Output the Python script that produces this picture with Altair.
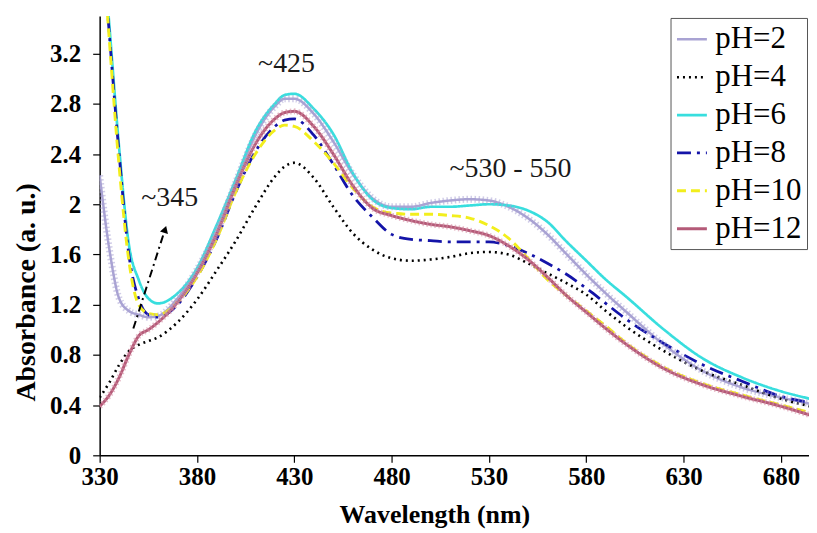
import altair as alt
import pandas as pd

# ---------------- data ----------------
wavelength = [330, 335, 340, 345, 350, 355, 360, 370, 380, 390, 400, 410, 420, 425, 430,
              440, 450, 460, 470, 480, 490, 500, 510, 520, 530, 540, 550, 560, 570, 580,
              590, 600, 620, 640, 660, 680, 695]

ph2 = [2.23, 1.64, 1.25, 1.15, 1.12, 1.10, 1.11, 1.25, 1.48, 1.78, 2.18, 2.55, 2.78, 2.84, 2.84,
       2.72, 2.50, 2.24, 2.05, 1.98, 1.98, 2.01, 2.03, 2.04, 2.03, 1.98, 1.89, 1.76, 1.60, 1.44,
       1.29, 1.15, 0.88, 0.67, 0.54, 0.46, 0.41]
ph4 = [0.46, 0.58, 0.72, 0.83, 0.88, 0.91, 0.94, 1.06, 1.24, 1.47, 1.71, 1.98, 2.22, 2.30, 2.33,
       2.21, 1.98, 1.77, 1.64, 1.57, 1.55, 1.56, 1.58, 1.61, 1.62, 1.60, 1.53, 1.45, 1.37, 1.28,
       1.15, 1.03, 0.83, 0.67, 0.56, 0.45, 0.39]
ph6 = [4.40, 3.42, 2.45, 1.68, 1.40, 1.25, 1.21, 1.29, 1.49, 1.83, 2.20, 2.58, 2.80, 2.87, 2.88,
       2.76, 2.56, 2.25, 2.04, 1.97, 1.96, 1.98, 1.98, 1.99, 2.00, 1.99, 1.95, 1.86, 1.70, 1.55,
       1.40, 1.27, 1.00, 0.77, 0.62, 0.51, 0.45]
ph8 = [4.40, 3.35, 2.40, 1.60, 1.25, 1.12, 1.10, 1.20, 1.42, 1.72, 2.10, 2.42, 2.62, 2.67, 2.68,
       2.55, 2.32, 2.07, 1.90, 1.76, 1.72, 1.71, 1.70, 1.70, 1.70, 1.67, 1.61, 1.53, 1.44, 1.33,
       1.21, 1.09, 0.89, 0.72, 0.59, 0.47, 0.42]
ph10 = [4.40, 3.30, 2.30, 1.55, 1.20, 1.13, 1.12, 1.22, 1.42, 1.72, 2.10, 2.40, 2.59, 2.63, 2.62,
        2.50, 2.33, 2.13, 1.98, 1.93, 1.92, 1.92, 1.91, 1.89, 1.83, 1.73, 1.57, 1.40, 1.27, 1.15,
        1.03, 0.90, 0.70, 0.57, 0.48, 0.40, 0.34]
ph12 = [0.39, 0.48, 0.62, 0.80, 0.95, 1.00, 1.06, 1.22, 1.45, 1.76, 2.15, 2.48, 2.68, 2.73, 2.74,
        2.62, 2.40, 2.15, 1.97, 1.91, 1.87, 1.84, 1.82, 1.79, 1.75, 1.67, 1.56, 1.42, 1.27, 1.14,
        1.01, 0.89, 0.69, 0.56, 0.47, 0.39, 0.32]

series_names = ["pH=2", "pH=4", "pH=6", "pH=8", "pH=10", "pH=12"]
series_values = [ph2, ph4, ph6, ph8, ph10, ph12]

x_ticks = [330, 380, 430, 480, 530, 580, 630, 680]
y_ticks = [0, 0.4, 0.8, 1.2, 1.6, 2, 2.4, 2.8, 3.2]

note_labels = ["~425", "~345", "~530 - 550"]
note_x = [426, 366, 541]
note_y = [3.12, 2.05, 2.28]

arrow_x = [347.3, 363.6]
arrow_y = [1.01, 1.80]

# ---------------- styles ----------------
colors = ["#A9A3D3", "#000000", "#38DEDE", "#1414A8", "#F2EE1C", "#B45A78"]
dashes = [[1, 0], [2, 4], [1, 0], [14, 6, 3, 6], [9, 5], [1, 0]]
widths = [2.5, 3, 3.2, 3, 3, 2.2]
FONT = "Liberation Serif"

rows = []
for name, vals in zip(series_names, series_values):
    for w, v in zip(wavelength, vals):
        rows.append({"wl": w, "abs": v, "series": name})
df = pd.DataFrame(rows)

notes = pd.DataFrame({"wl": note_x, "abs": note_y, "label": note_labels})
arrow = pd.DataFrame({"wl": arrow_x, "abs": arrow_y})

xscale = alt.Scale(domain=[330, 694.4], nice=False, zero=False)
yscale = alt.Scale(domain=[0, 3.5], nice=False, zero=False)

x_axis = alt.Axis(values=x_ticks, title="Wavelength (nm)", format="d",
                  titleX=336, titleY=67, titleBaseline="alphabetic",
                  titleAlign="center", labelPadding=2, labelFlush=False,
                  titleFontSize=26)
y_axis = alt.Axis(values=y_ticks, title="Absorbance (a. u.)", format="~g",
                  titleX=-73, titleY=277, titleAngle=270,
                  titleAlign="center", titleBaseline="middle", labelPadding=12,
                  labelFlush=False, titleFontSize=28)

x_enc = alt.X("wl:Q", scale=xscale, axis=x_axis)
y_enc = alt.Y("abs:Q", scale=yscale, axis=y_axis)

legend = alt.Legend(title=None, orient="none", legendX=573, legendY=2,
                    symbolType="stroke", symbolSize=900, symbolStrokeWidth=3,
                    labelFont=FONT, labelFontSize=31, labelColor="black",
                    strokeColor="#555555", fillColor="white", padding=5,
                    rowPadding=6, labelOffset=7)

lines = alt.Chart(df).mark_line(interpolate="monotone", clip=True).encode(
    x=x_enc,
    y=y_enc,
    color=alt.Color("series:N", scale=alt.Scale(domain=series_names, range=colors),
                    legend=legend),
    strokeDash=alt.StrokeDash("series:N", scale=alt.Scale(domain=series_names, range=dashes),
                              legend=legend),
    strokeWidth=alt.StrokeWidth("series:N", scale=alt.Scale(domain=series_names, range=widths),
                                legend=None),
    order=alt.Order("wl:Q"),
)

fuzz2 = alt.Chart(df).transform_filter(alt.datum.series == "pH=2").mark_line(
    interpolate="monotone", clip=True, color=colors[0], strokeWidth=7,
    strokeDash=[1.5, 2.5], opacity=0.55).encode(x=x_enc, y=y_enc, order=alt.Order("wl:Q"))
fuzz12 = alt.Chart(df).transform_filter(alt.datum.series == "pH=12").mark_line(
    interpolate="monotone", clip=True, color="#D58FA5", strokeWidth=6,
    strokeDash=[1.5, 2.5], opacity=0.6).encode(x=x_enc, y=y_enc, order=alt.Order("wl:Q"))

arrow_line = alt.Chart(arrow).mark_line(color="black", strokeWidth=2,
                                        strokeDash=[8, 4, 2, 4]).encode(x=x_enc, y=y_enc)
arrow_head = alt.Chart(arrow.tail(1)).mark_point(shape="triangle-up", filled=True, size=70,
                                                 angle=18, color="black", opacity=1).encode(
    x=x_enc, y=y_enc)

texts = alt.Chart(notes).mark_text(font=FONT, fontSize=28, color="#1a1a1a").encode(
    x=x_enc, y=y_enc, text="label:N")

chart = alt.layer(lines, fuzz2, fuzz12, arrow_line, arrow_head, texts).properties(
    width=712, height=441,
    autosize=alt.AutoSizeParams(type="none"),
    padding={"left": 92, "top": 7, "right": 0, "bottom": 76},
).configure_view(stroke=None).configure_axis(
    grid=False, domainColor="black", domainWidth=1.5, tickColor="black", tickSize=7,
    tickWidth=1.2, labelFont=FONT, labelFontWeight="bold", labelFontSize=25,
    labelColor="black", titleFont=FONT, titleFontWeight="bold",
    titleColor="black")

chart.save("out.html", embed_options={"renderer": "svg", "actions": False})
